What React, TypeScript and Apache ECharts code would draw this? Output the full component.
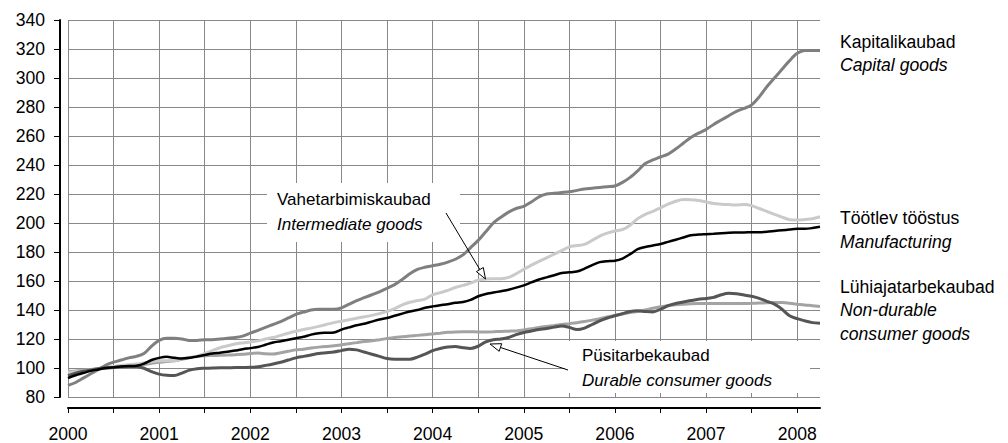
import React, { useEffect, useRef } from "react";
import * as echarts from "echarts";

const years = [2000, 2001, 2002, 2003, 2004, 2005, 2006, 2007, 2008];
const monthsLast = 4; // data through April 2008
const categories: string[] = [];
years.forEach((y) => {
  const n = y === 2008 ? monthsLast : 12;
  for (let m = 1; m <= n; m++) categories.push(`${y}-${String(m).padStart(2, "0")}`);
});

const capitalGoods = [
  88, 90, 93, 96, 99, 102, 104, 105.5, 107, 108, 110, 115,
  119, 120.5, 120.5, 120, 119, 119, 119.5, 119.5, 120, 120.5, 121, 122,
  124, 126, 128, 130, 132, 134.5, 137, 138.5, 140, 140.5, 140.5, 140.5,
  141.5, 144, 146.5, 148.5, 150.5, 152.5, 155, 157.5, 161, 165, 168, 169.5,
  170.5, 171.5, 173, 175, 178, 183, 188, 194, 200, 204, 207.5, 210,
  211.5, 214.5, 218, 220, 220.5, 221, 221.5, 222.5, 223.5, 224, 224.5, 225,
  225.5, 228, 231.5, 236, 241, 243.5, 245.5, 247.5, 251, 255, 259, 262,
  264.5, 268, 271, 274, 277, 279, 281.5, 287, 294, 300, 306, 312,
  317, 319, 319, 319,
];

const manufacturing = [
  93, 95, 96.5, 98, 99, 100, 100.5, 101, 101.3, 101.5, 103, 105.5,
  107, 107.7, 107, 106.5, 107, 108, 109, 110, 110.5, 111.2, 112, 113,
  113.7, 114.5, 116, 117.6, 118.5, 119.5, 120.5, 121.5, 123, 124, 124.3, 124.5,
  126.5, 128, 129.5, 130.5, 132, 133.5, 134.5, 136, 137.5, 139, 140, 141.5,
  142.5, 143.3, 144, 145, 145.5, 147, 149.5, 151, 152, 153, 154, 155.4,
  157, 159, 161, 162.5, 164, 165.5, 166, 166.5, 168.5, 171, 173, 173.7,
  174, 175.5, 178.5, 182, 183.5, 184.5, 185.5, 187, 188.5, 190, 191.5, 192,
  192.3, 192.6, 193, 193.3, 193.4, 193.5, 193.6, 193.7, 194, 194.5, 195, 195.5,
  196, 196, 196.5, 197.4,
];

const intermediateGoods = [
  97, 97.5, 98, 98.5, 99.5, 100.3, 101, 101.7, 102.2, 102.7, 103.5, 104.5,
  105, 105, 105, 106.5, 107.5, 108, 110, 112, 114, 115.3, 116.5, 117.3,
  118, 118.7, 120, 121, 122.5, 124, 125.3, 126.5, 127.5, 128.7, 130, 131.3,
  132.3, 133.3, 134.3, 135.3, 136.3, 137.5, 139, 141, 143.5, 145.3, 146.5, 147.5,
  150.5, 152, 153.5, 155.5, 157, 158.5, 160.5, 161.3, 161.5, 161.6, 162.5, 165,
  168, 171, 173.5, 176, 178.5, 181, 183.5, 184.5, 185.3, 188, 191, 193,
  194.5, 195.5, 198.5, 203, 206, 208, 210.5, 213, 215, 216.2, 216, 215.5,
  214.5, 213.5, 213, 212.7, 212.5, 212.7, 212, 210, 208, 206, 204, 202.3,
  202, 202.4, 203, 204.3,
];

const durableGoods = [
  94.7, 96.5, 97.7, 98.6, 99.5, 100, 100.4, 100.8, 101, 101, 99.8, 97.5,
  95.8, 95, 94.8, 96.5, 98.5, 99.5, 99.8, 100, 100.2, 100.2, 100.3, 100.3,
  100.5, 100.9, 101.8, 102.8, 104, 105.5, 107, 108, 109, 110, 110.5, 111,
  112, 113, 112.5, 111, 109.5, 108, 106.5, 106, 106, 106, 107.5, 109.5,
  112, 113.5, 114.5, 114.8, 114, 113.5, 115, 118, 119.5, 120, 121, 123,
  124.5, 125.5, 126.5, 127.2, 128.2, 129, 128, 126.5, 127.5, 130, 132.5, 134.5,
  136, 137.5, 139, 139.5, 139, 138.7, 140.5, 143, 144.5, 145.5, 146.5, 147.4,
  148, 148.7, 150.5, 151.5, 151.2, 150.3, 149.5, 148, 146, 144, 140.5, 136,
  134, 132.5, 131.3, 130.9,
];

const nonDurableGoods = [
  97.7, 98, 98.5, 99, 99.5, 100, 100.4, 100.8, 101.2, 101.5, 102.3, 103.2,
  103.9, 104.5, 105, 106, 107, 108, 108.4, 108.6, 108.8, 108.9, 109.1, 109.5,
  110, 110.3, 109.8, 109.6, 110.5, 111.5, 112.5, 113, 113.8, 114.4, 114.9, 115.3,
  116, 116.8, 117.5, 118.2, 118.7, 119.5, 120.3, 121, 121.5, 122, 122.5, 123,
  123.5, 124, 124.6, 124.9, 125, 125, 124.9, 124.9, 125, 125.2, 125.4, 125.6,
  126.2, 127, 128, 128.7, 129.3, 130, 130.6, 131.2, 132, 133, 134, 135.2,
  136.3, 137.3, 138.2, 139, 140, 141.2, 142.2, 143, 143.6, 144, 144.3, 144.4,
  144.4, 144.4, 144.4, 144.4, 144.4, 144.5, 144.6, 144.8, 145, 145.1, 145.1, 144.6,
  144, 143.4, 143, 142.4,
];

const FONT = '"Liberation Sans", Arial, sans-serif';
const FS = 17.6;
const FS_BOX = 17;

function arrow(sx: number, sy: number, tx: number, ty: number) {
  const dx = tx - sx;
  const dy = ty - sy;
  const len = Math.sqrt(dx * dx + dy * dy);
  const ux = dx / len;
  const uy = dy / len;
  const nx = -uy;
  const ny = ux;
  const L = 11;
  const W = 4;
  const bx = tx - ux * L;
  const by = ty - uy * L;
  return [
    {
      type: "line",
      z: 100,
      shape: { x1: sx, y1: sy, x2: bx, y2: by },
      style: { stroke: "#000", lineWidth: 1 },
    },
    {
      type: "polygon",
      z: 101,
      shape: {
        points: [
          [tx, ty],
          [bx + nx * W, by + ny * W],
          [bx - nx * W, by - ny * W],
        ],
      },
      style: { fill: "#fff", stroke: "#000", lineWidth: 1 },
    },
  ];
}

function txt(x: number, y: number, text: string, italic: boolean, fs: number = FS) {
  return {
    type: "text",
    z: 100,
    x,
    y,
    style: {
      text,
      fill: "#000",
      fontSize: fs,
      fontFamily: FONT,
      fontStyle: italic ? "italic" : "normal",
      verticalAlign: "middle",
      align: "left",
    },
  };
}

export default function App() {
  const ref = useRef<HTMLDivElement>(null);
  useEffect(() => {
    if (!ref.current) return;
    const chart = echarts.init(ref.current, undefined, { renderer: "svg" });
    const mk = (name: string, data: number[], color: string, width: number, z: number) => ({
      name,
      type: "line",
      data,
      showSymbol: false,
      symbol: "none",
      smooth: 0.3,
      z,
      lineStyle: { color, width },
    });
    chart.setOption({
      animation: false,
      textStyle: { fontFamily: FONT },
      grid: { left: 68, right: 188, top: 20, bottom: 45 },
      xAxis: {
        type: "category",
        data: categories,
        boundaryGap: false,
        offset: 11,
        axisLine: { lineStyle: { color: "#000", width: 2 } },
        axisTick: {
          show: true,
          length: 5,
          interval: (i: number) => i % 6 === 0,
          lineStyle: { color: "#000", width: 1 },
        },
        axisLabel: {
          interval: (i: number) => i % 12 === 0,
          formatter: (v: string) => v.slice(0, 4),
          color: "#000",
          fontSize: FS,
          fontFamily: FONT,
          margin: 17,
        },
        splitLine: {
          show: true,
          interval: (i: number) => i % 6 === 0,
          lineStyle: { color: "#888888", width: 1 },
        },
      },
      yAxis: {
        type: "value",
        min: 80,
        max: 340,
        interval: 20,
        offset: 8,
        axisLine: { show: true, lineStyle: { color: "#000", width: 2 } },
        axisTick: { show: true, length: 6, lineStyle: { color: "#000", width: 1 } },
        axisLabel: { color: "#000", fontSize: FS, fontFamily: FONT, margin: 15 },
        splitLine: { show: true, lineStyle: { color: "#888888", width: 1 } },
      },
      series: [
        mk("Lühiajatarbekaubad", nonDurableGoods, "#a3a3a3", 3, 2),
        mk("Vahetarbimiskaubad", intermediateGoods, "#cacaca", 3, 3),
        mk("Kapitalikaubad", capitalGoods, "#7f7f7f", 3, 4),
        mk("Püsitarbekaubad", durableGoods, "#555555", 3, 5),
        mk("Töötlev tööstus", manufacturing, "#000000", 2.5, 6),
      ],
      graphic: [
        { type: "rect", z: 99, shape: { x: 267, y: 183, width: 193, height: 59 }, style: { fill: "#fff" } },
        { type: "rect", z: 99, shape: { x: 565, y: 341, width: 245, height: 52 }, style: { fill: "#fff" } },
        txt(277, 199, "Vahetarbimiskaubad", false, FS_BOX),
        txt(277, 224, "Intermediate goods", true, FS_BOX),
        txt(582, 355, "Püsitarbekaubad", false, FS_BOX),
        txt(582, 380, "Durable consumer goods", true, FS_BOX),
        txt(840, 42, "Kapitalikaubad", false),
        txt(840, 65, "Capital goods", true),
        txt(840, 218, "Töötlev tööstus", false),
        txt(840, 242, "Manufacturing", true),
        txt(840, 287, "Lühiajatarbekaubad", false),
        txt(840, 310, "Non-durable", true),
        txt(840, 334, "consumer goods", true),
        ...arrow(446, 213, 485.5, 279),
        ...arrow(568, 370, 490, 344),
      ],
    });
    return () => chart.dispose();
  }, []);
  return (
    <div
      ref={ref}
      style={{ position: "fixed", left: 0, top: 0, width: 1008, height: 443, background: "#fff" }}
    />
  );
}
